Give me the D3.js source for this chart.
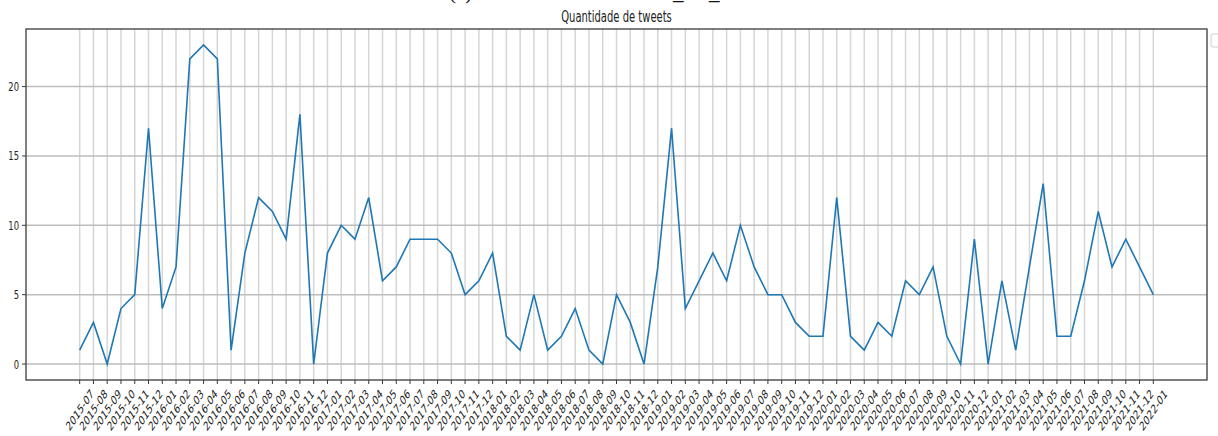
<!DOCTYPE html>
<html>
<head>
<meta charset="utf-8">
<script src="https://cdn.jsdelivr.net/npm/d3@7"></script>
<style>
  html, body { margin: 0; padding: 0; background: #fff; }
  svg { display: block; }
</style>
</head>
<body>
<svg id="chart" width="1218" height="436"></svg>
<script>
// ---- data ----
const months = [
  "2015-07","2015-08","2015-09","2015-10","2015-11","2015-12",
  "2016-01","2016-02","2016-03","2016-04","2016-05","2016-06","2016-07","2016-08","2016-09","2016-10","2016-11","2016-12",
  "2017-01","2017-02","2017-03","2017-04","2017-05","2017-06","2017-07","2017-08","2017-09","2017-10","2017-11","2017-12",
  "2018-01","2018-02","2018-03","2018-04","2018-05","2018-06","2018-07","2018-08","2018-09","2018-10","2018-11","2018-12",
  "2019-01","2019-02","2019-03","2019-04","2019-05","2019-06","2019-07","2019-08","2019-09","2019-10","2019-11","2019-12",
  "2020-01","2020-02","2020-03","2020-04","2020-05","2020-06","2020-07","2020-08","2020-09","2020-10","2020-11","2020-12",
  "2021-01","2021-02","2021-03","2021-04","2021-05","2021-06","2021-07","2021-08","2021-09","2021-10","2021-11","2021-12",
  "2022-01"
];
const tweetCounts = [
  1, 3, 0, 4, 5, 17,
  4, 7, 22, 23, 22, 1, 8, 12, 11, 9, 18, 0,
  8, 10, 9, 12, 6, 7, 9, 9, 9, 8, 5, 6,
  8, 2, 1, 5, 1, 2, 4, 1, 0, 5, 3, 0,
  7, 17, 4, 6, 8, 6, 10, 7, 5, 5, 3, 2,
  2, 12, 2, 1, 3, 2, 6, 5, 7, 2, 0, 9,
  0, 6, 1, 7, 13, 2, 2, 6, 11, 7, 9, 7,
  5
];
const yTicks = [0, 5, 10, 15, 20];
const chartTitle = "Quantidade de tweets";

// ---- layout ----
const svg = d3.select("#chart");
const L = 26, R = 1207, T = 29, B = 380;
const STRETCH = 1.5;
const n = months.length;
const xPad = (n - 1) * 0.05;
const yMax = d3.max(tweetCounts), yPad = yMax * 0.05;

const x = d3.scaleLinear().domain([-xPad, n - 1 + xPad]).range([L, R]);
const y = d3.scaleLinear().domain([-yPad, yMax + yPad]).range([B, T]);

// partially cropped caption at the very top
const cap = svg.append("g").attr("font-family", "Liberation Serif").attr("font-size", 21).attr("fill", "#111");
cap.append("text").attr("x", 449).attr("y", -1).text("(c)");
cap.append("text").attr("x", 673).attr("y", -1).text("_");
cap.append("text").attr("x", 709).attr("y", -1).text("_");

// grid
const grid = svg.append("g");
grid.selectAll("line.v").data(months).join("line")
  .attr("class", "v")
  .attr("x1", (d, i) => x(i)).attr("x2", (d, i) => x(i))
  .attr("y1", T).attr("y2", B)
  .attr("stroke", "#d6d6d6").attr("stroke-width", 1.5);
grid.selectAll("line.h").data(yTicks).join("line")
  .attr("class", "h")
  .attr("x1", L).attr("x2", R)
  .attr("y1", d => y(d)).attr("y2", d => y(d))
  .attr("stroke", "#bdbdbd").attr("stroke-width", 1.5);

// line
const line = d3.line().x((d, i) => x(i)).y(d => y(d));
svg.append("path").datum(tweetCounts)
  .attr("d", line)
  .attr("fill", "none")
  .attr("stroke", "#1f77b4")
  .attr("stroke-width", 1.6)
  .attr("stroke-linejoin", "miter");

// spines
svg.append("rect").attr("x", L).attr("y", T).attr("width", R - L).attr("height", B - T)
  .attr("fill", "none").attr("stroke", "#3a3a3a").attr("stroke-width", 1.3);

// y ticks
const yAx = svg.append("g");
yAx.selectAll("line").data(yTicks).join("line")
  .attr("x1", L - 4).attr("x2", L)
  .attr("y1", d => y(d)).attr("y2", d => y(d))
  .attr("stroke", "#3a3a3a").attr("stroke-width", 1);
yAx.selectAll("g.lbl").data(yTicks).join("g")
  .attr("class", "lbl")
  .attr("transform", d => `translate(${L - 7},${y(d)}) scale(1,${STRETCH})`)
  .append("text")
  .attr("text-anchor", "end")
  .attr("dy", "0.36em")
  .attr("font-family", "DejaVu Sans")
  .attr("font-size", 8.4)
  .attr("fill", "#222")
  .text(d => d);

// x ticks
const xAx = svg.append("g");
xAx.selectAll("line").data(months).join("line")
  .attr("x1", (d, i) => x(i)).attr("x2", (d, i) => x(i))
  .attr("y1", B).attr("y2", B + 4)
  .attr("stroke", "#3a3a3a").attr("stroke-width", 1);
xAx.selectAll("g.lbl").data(months).join("g")
  .attr("class", "lbl")
  .attr("transform", (d, i) => `translate(${x(i)},${B + 30}) scale(1,${STRETCH}) rotate(-45)`)
  .append("text")
  .attr("text-anchor", "middle")
  .attr("dy", "0.36em")
  .attr("font-family", "DejaVu Sans")
  .attr("font-size", 8.4)
  .attr("fill", "#222")
  .text(d => d);

// title
svg.append("g")
  .attr("transform", `translate(${(L + R) / 2},22) scale(1,${STRETCH})`)
  .append("text")
  .attr("text-anchor", "middle")
  .attr("font-family", "DejaVu Sans")
  .attr("font-size", 10)
  .attr("fill", "#222")
  .text(chartTitle);

// empty legend box (cut off at right edge)
svg.append("rect").attr("x", 1211).attr("y", 34).attr("width", 14).attr("height", 13)
  .attr("rx", 2).attr("fill", "#fff").attr("stroke", "#d0d0d0").attr("stroke-width", 1);
</script>
</body>
</html>
